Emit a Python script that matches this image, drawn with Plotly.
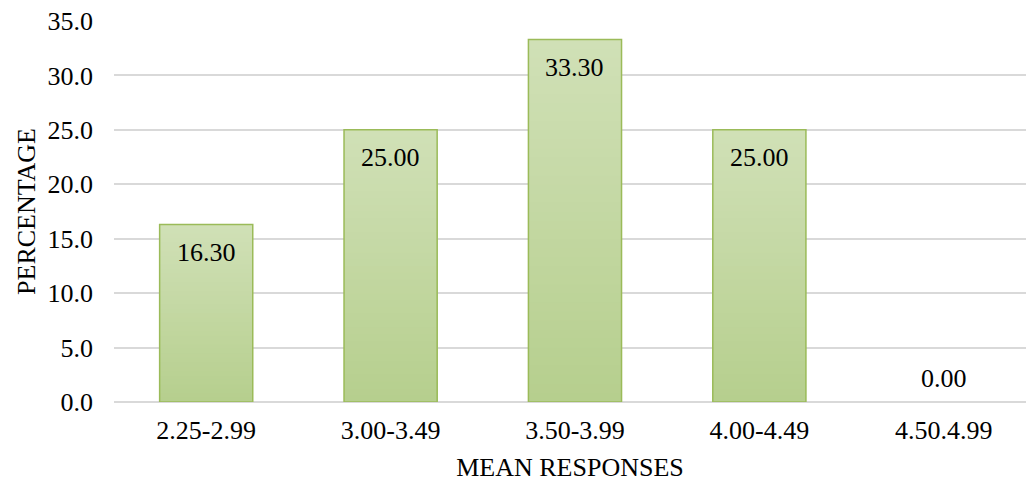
import plotly.graph_objects as go

# Distribution of mean responses
categories = ["2.25-2.99", "3.00-3.49", "3.50-3.99", "4.00-4.49", "4.50.4.99"]
percentages = [16.30, 25.00, 33.30, 25.00, 0.00]
y_ticks = [0, 5, 10, 15, 20, 25, 30, 35]
y_tick_labels = [f"{v:.1f}" for v in y_ticks]

FONT = "Liberation Serif, Times New Roman, serif"
FS = 26
TOP_COLOR = (208, 224, 182)
BOTTOM_COLOR = (182, 207, 142)
OUTLINE = "#9bbb59"

fig = go.Figure()

# Vertical gradient: stacked overlays of shrinking bars, light at the top, darker at the base
steps = 40
for k in range(steps):
    frac = 1 - k / steps
    t = k / (steps - 1)
    rgb = tuple(round(TOP_COLOR[i] + (BOTTOM_COLOR[i] - TOP_COLOR[i]) * t) for i in range(3))
    fig.add_trace(go.Bar(
        x=categories,
        y=[v * frac for v in percentages],
        marker=dict(color=f"rgb{rgb}", line=dict(width=0)),
        width=0.505,
        hoverinfo="skip",
        showlegend=False,
    ))

# Outline (none for empty categories)
fig.add_trace(go.Bar(
    x=categories,
    y=percentages,
    marker=dict(color="rgba(0,0,0,0)",
                line=dict(color=OUTLINE, width=[1.5 if v > 0 else 0 for v in percentages])),
    width=0.505,
    showlegend=False,
))

# Value labels inside the bar ends
for cat, val in zip(categories, percentages):
    fig.add_annotation(
        x=cat, y=val, text=f"{val:.2f}", showarrow=False,
        yshift=-28 if val > 0 else 24,
        font=dict(family=FONT, size=FS, color="#000000"),
    )

fig.update_layout(
    width=1026, height=485,
    margin=dict(l=114, r=0, t=21, b=83),
    paper_bgcolor="white", plot_bgcolor="white",
    barmode="overlay",
    font=dict(family=FONT, size=FS, color="#000000"),
    xaxis=dict(
        range=[-0.5, 4.446],
        showgrid=False, zeroline=False, showline=False,
        ticks="", ticklabelstandoff=10,
        tickfont=dict(family=FONT, size=FS),
        title=dict(text="MEAN RESPONSES", font=dict(family=FONT, size=FS), standoff=13),
    ),
    yaxis=dict(
        range=[0, 35],
        tickvals=y_ticks, ticktext=y_tick_labels,
        showgrid=True, gridcolor="#d9d9d9", gridwidth=1.5,
        zeroline=True, zerolinecolor="#d9d9d9", zerolinewidth=1.5,
        showline=False, ticks="", ticklabelstandoff=20,
        tickfont=dict(family=FONT, size=FS),
        title=dict(text="PERCENTAGE", font=dict(family=FONT, size=FS), standoff=4),
    ),
)

fig.write_html("out.html")
